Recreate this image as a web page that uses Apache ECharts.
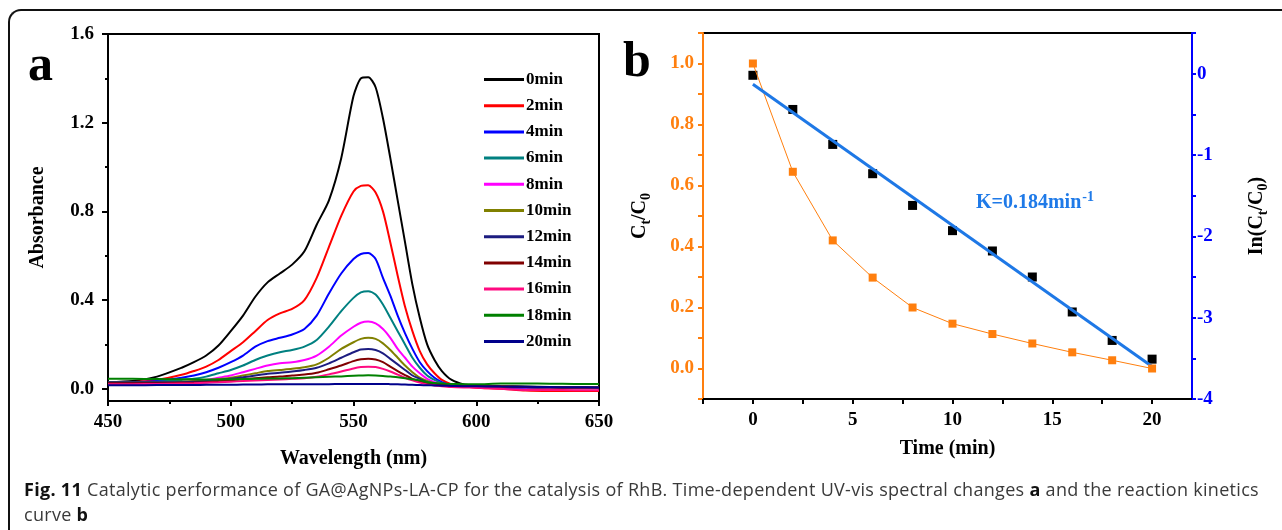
<!DOCTYPE html>
<html>
<head>
<meta charset="utf-8">
<script src="https://cdn.jsdelivr.net/npm/echarts@6/dist/echarts.min.js"></script>
<style>
  html, body { margin: 0; padding: 0; background: #fff; }
  #wrap { position: relative; width: 1282px; height: 530px; overflow: hidden; }
  #frame {
    position: absolute; left: 8px; top: 9px; width: 1300px; height: 560px;
    border-top: 2px solid #111; border-left: 2px solid #111;
    border-top-left-radius: 13px;
  }
  #chart { position: absolute; left: 0; top: 0; width: 1282px; height: 530px; }
  #caption {
    position: absolute; left: 24px; top: 477px; width: 1245px;
    font-family: "Open Sans", "Noto Sans", sans-serif; font-size: 18px;
    letter-spacing: 0.3px; line-height: 25px; color: #3a3a3a;
  }
  #caption b { color: #111; }
</style>
</head>
<body>
<div id="wrap">
  <div id="frame"></div>
  <div id="chart"></div>
  <div id="caption"><b>Fig. 11</b> Catalytic performance of GA@AgNPs-LA-CP for the catalysis of RhB. Time-dependent UV-vis spectral changes <b>a</b> and the reaction kinetics curve <b>b</b></div>
</div>
<script>
// panel a : UV-vis spectra
const wavelength = [450,460,470,480,485,490,495,500,505,510,515,520,525,530,535,540,545,550,553,556,559,562,565,568,571,574,577,580,583,586,590,595,600,610,620,630,640,650];

const abs0  = [0.030,0.035,0.055,0.095,0.120,0.150,0.195,0.260,0.330,0.415,0.480,0.520,0.560,0.620,0.740,0.850,1.040,1.320,1.400,1.405,1.360,1.220,1.040,0.850,0.660,0.470,0.320,0.200,0.130,0.080,0.040,0.020,0.015,0.012,0.010,0.008,0.006,0.005];
const abs2  = [0.025,0.030,0.040,0.063,0.080,0.100,0.130,0.170,0.210,0.260,0.310,0.340,0.360,0.400,0.500,0.640,0.780,0.890,0.915,0.918,0.885,0.800,0.660,0.510,0.370,0.260,0.170,0.110,0.070,0.040,0.020,0.010,0.005,0.000,-0.008,-0.010,-0.010,-0.010];
const abs4  = [0.025,0.030,0.035,0.050,0.060,0.075,0.095,0.120,0.150,0.190,0.215,0.230,0.245,0.270,0.330,0.430,0.520,0.585,0.608,0.612,0.585,0.500,0.420,0.330,0.250,0.180,0.120,0.080,0.050,0.030,0.015,0.010,0.008,0.005,0.003,0.003,0.002,0.002];
const abs6  = [0.030,0.030,0.032,0.040,0.045,0.055,0.070,0.085,0.105,0.130,0.150,0.165,0.175,0.190,0.220,0.280,0.350,0.410,0.435,0.440,0.425,0.380,0.320,0.260,0.200,0.140,0.095,0.060,0.040,0.025,0.015,0.010,0.010,0.008,0.006,0.005,0.004,0.004];
const abs8  = [0.025,0.026,0.028,0.030,0.035,0.040,0.050,0.060,0.075,0.090,0.105,0.115,0.120,0.130,0.150,0.190,0.240,0.280,0.298,0.303,0.295,0.270,0.230,0.180,0.140,0.100,0.070,0.045,0.030,0.020,0.015,0.010,0.010,0.008,0.006,0.005,0.004,0.004];
const abs10 = [0.030,0.030,0.030,0.032,0.035,0.038,0.044,0.050,0.060,0.070,0.080,0.085,0.090,0.097,0.110,0.140,0.180,0.210,0.225,0.230,0.225,0.205,0.175,0.140,0.105,0.075,0.050,0.035,0.025,0.020,0.015,0.012,0.012,0.010,0.008,0.007,0.006,0.006];
const abs12 = [0.030,0.030,0.030,0.030,0.032,0.035,0.040,0.045,0.052,0.060,0.068,0.072,0.078,0.085,0.095,0.115,0.140,0.165,0.177,0.180,0.175,0.160,0.135,0.110,0.085,0.060,0.045,0.030,0.024,0.020,0.015,0.012,0.012,0.010,0.008,0.007,0.006,0.006];
const abs14 = [0.025,0.025,0.025,0.027,0.028,0.030,0.034,0.038,0.043,0.048,0.052,0.055,0.060,0.064,0.072,0.088,0.105,0.125,0.133,0.136,0.132,0.120,0.100,0.080,0.062,0.045,0.033,0.025,0.020,0.018,0.014,0.012,0.012,0.010,0.008,0.007,0.006,0.006];
const abs16 = [0.020,0.021,0.022,0.024,0.025,0.027,0.029,0.032,0.035,0.038,0.040,0.042,0.045,0.048,0.054,0.065,0.078,0.092,0.098,0.100,0.098,0.090,0.078,0.064,0.050,0.038,0.028,0.020,0.015,0.012,0.008,0.006,0.005,0.000,-0.005,-0.005,-0.006,-0.006];
const abs18 = [0.045,0.045,0.044,0.043,0.043,0.042,0.042,0.043,0.044,0.045,0.046,0.047,0.048,0.050,0.052,0.054,0.056,0.059,0.060,0.061,0.060,0.058,0.055,0.052,0.048,0.043,0.038,0.030,0.026,0.024,0.022,0.021,0.020,0.024,0.024,0.023,0.022,0.022];
const abs20 = [0.016,0.016,0.017,0.017,0.017,0.018,0.018,0.018,0.019,0.019,0.020,0.020,0.020,0.021,0.021,0.021,0.022,0.022,0.022,0.022,0.022,0.022,0.021,0.020,0.019,0.018,0.017,0.016,0.015,0.014,0.013,0.012,0.012,0.010,0.009,0.008,0.007,0.006];

const spectraNames  = ['0min','2min','4min','6min','8min','10min','12min','14min','16min','18min','20min'];
const spectraValues = [abs0, abs2, abs4, abs6, abs8, abs10, abs12, abs14, abs16, abs18, abs20];
const spectraColors = ['#000000','#ff0000','#0000ff','#008080','#ff00ff','#808000','#1c1c80','#800000','#ff0a80','#008000','#00008b'];

// panel b : kinetics
const time     = [0, 2, 4, 6, 8, 10, 12, 14, 16, 18, 20];
const ratio    = [1.0, 0.645, 0.42, 0.298, 0.20, 0.147, 0.113, 0.082, 0.053, 0.027, 0.0];
const lnRatio  = [-0.02, -0.44, -0.87, -1.23, -1.62, -1.93, -2.18, -2.50, -2.93, -3.28, -3.51];
const fitTime  = [0, 20];
const fitLn    = [-0.13, -3.60];

// tick positions
const absLabels   = [0, 0.4, 0.8, 1.2, 1.6];
const absMinor    = [0.2, 0.6, 1.0, 1.4];
const timeLabels  = [0, 5, 10, 15, 20];
const timeTicks   = [-2.5, 0, 2.5, 5, 7.5, 10, 12.5, 15, 17.5, 20];
const ratioLabels = [0, 0.2, 0.4, 0.6, 0.8, 1.0];
const ratioTicks  = [-0.1, 0, 0.1, 0.2, 0.3, 0.4, 0.5, 0.6, 0.7, 0.8, 0.9, 1.0, 1.1];
const lnLabels    = [-4, -3, -2, -1, 0];
const lnTicks     = [-4, -3.5, -3, -2.5, -2, -1.5, -1, -0.5, 0, 0.5];

const SERIF = '"Liberation Serif", "Times New Roman", serif';
const ORANGE = '#ff7f0e';
const BLUE = '#0000ff';

const chart = echarts.init(document.getElementById('chart'));

const tickFont = { fontFamily: SERIF, fontWeight: 'bold', fontSize: 19, color: '#000' };
const nameFont = { fontFamily: SERIF, fontWeight: 'bold', fontSize: 20, color: '#000' };
const subRich = (color) => ({
  m: { fontFamily: SERIF, fontWeight: 'bold', fontSize: 20, color: color },
  s: { fontFamily: SERIF, fontWeight: 'bold', fontSize: 14, color: color, padding: [12, 0, 0, 0] }
});

const spectraSeries = spectraNames.map((name, i) => ({
  name: name,
  type: 'line',
  xAxisIndex: 0,
  yAxisIndex: 0,
  symbol: 'none',
  smooth: 0.25,
  lineStyle: { width: 2, color: spectraColors[i] },
  itemStyle: { color: spectraColors[i] },
  data: wavelength.map((w, k) => [w, spectraValues[i][k]])
}));

const option = {
  animation: false,
  grid: [
    { left: 108, top: 34, width: 491, height: 367, show: true, borderColor: '#000', borderWidth: 2 },
    { left: 703, top: 33, width: 489, height: 366, show: true, borderColor: '#000', borderWidth: 2 }
  ],
  legend: {
    data: spectraNames,
    orient: 'vertical',
    left: 479,
    top: 66,
    icon: 'rect',
    itemWidth: 40,
    itemHeight: 3,
    itemGap: 9.2,
    textStyle: { fontFamily: SERIF, fontWeight: 'bold', fontSize: 17, color: '#000', lineHeight: 14, padding: [0, 0, 0, -3] }
  },
  xAxis: [
    {
      gridIndex: 0, type: 'value', min: 450, max: 650, interval: 50,
      name: 'Wavelength (nm)', nameLocation: 'middle', nameGap: 48, nameTextStyle: nameFont,
      axisLine: { onZero: false, lineStyle: { color: '#000', width: 2 } },
      axisTick: { length: 5, lineStyle: { width: 2 } },
      minorTick: { show: true, splitNumber: 2, length: 3, lineStyle: { color: '#000', width: 2 } },
      axisLabel: Object.assign({ margin: 12 }, tickFont),
      splitLine: { show: false }
    },
    {
      gridIndex: 1, type: 'value', min: -2.5, max: 22,
      name: 'Time (min)', nameLocation: 'middle', nameGap: 40, nameTextStyle: nameFont,
      axisLine: { onZero: false, lineStyle: { color: '#000', width: 2 } },
      axisTick: { length: 5, customValues: timeTicks, lineStyle: { width: 2 } },
      axisLabel: Object.assign({ margin: 12, customValues: timeLabels }, tickFont),
      splitLine: { show: false }
    }
  ],
  yAxis: [
    {
      gridIndex: 0, type: 'value', min: -0.055, max: 1.6, position: 'left',
      name: 'Absorbance', nameLocation: 'middle', nameGap: 60, nameTextStyle: nameFont,
      axisLine: { onZero: false, lineStyle: { color: '#000', width: 2 } },
      axisTick: { length: 6, customValues: absLabels, lineStyle: { width: 2 } },
      axisLabel: Object.assign({ margin: 14, customValues: absLabels, formatter: v => v.toFixed(1) }, tickFont),
      splitLine: { show: false }
    },
    {
      // minor ticks of the absorbance axis
      gridIndex: 0, type: 'value', min: -0.055, max: 1.6, position: 'left',
      axisLine: { show: false, onZero: false },
      axisTick: { length: 3, customValues: absMinor, lineStyle: { color: '#000', width: 2 } },
      axisLabel: { show: false },
      splitLine: { show: false }
    },
    {
      gridIndex: 1, type: 'value', min: -0.1, max: 1.1, position: 'left',
      name: '{m|C}{s|t}{m|/C}{s|0}', nameLocation: 'middle', nameGap: 50,
      nameTextStyle: { rich: subRich('#000') },
      axisLine: { onZero: false, lineStyle: { color: ORANGE, width: 2 } },
      axisTick: { length: 5, customValues: ratioTicks, lineStyle: { color: ORANGE, width: 2 } },
      axisLabel: Object.assign({}, tickFont, { margin: 9, color: ORANGE, customValues: ratioLabels, formatter: v => v.toFixed(1) }),
      splitLine: { show: false }
    },
    {
      gridIndex: 1, type: 'value', min: -4, max: 0.5, position: 'right',
      name: '{m|In(C}{s|t}{m|/C}{s|0}{m|)}', nameLocation: 'middle', nameGap: 52,
      nameTextStyle: { rich: subRich('#000') },
      axisLine: { onZero: false, lineStyle: { color: BLUE, width: 2 } },
      axisTick: { length: 4, customValues: lnTicks, lineStyle: { color: BLUE, width: 2 } },
      axisLabel: Object.assign({}, tickFont, { margin: 5, color: BLUE, customValues: lnLabels }),
      splitLine: { show: false }
    }
  ],
  graphic: [
    { type: 'text', left: 28, top: 42, style: { text: 'a', font: 'bold 50px ' + SERIF, fill: '#000' } },
    { type: 'text', left: 623, top: 38, style: { text: 'b', font: 'bold 50px ' + SERIF, fill: '#000' } },
    {
      type: 'text', left: 976, top: 190,
      style: {
        text: '{m|K=0.184min}{s|-1}',
        rich: {
          m: { fontFamily: SERIF, fontWeight: 'bold', fontSize: 20, fill: '#1f7ae8' },
          s: { fontFamily: SERIF, fontWeight: 'bold', fontSize: 14, fill: '#1f7ae8', padding: [0, 0, 12, 1] }
        }
      }
    }
  ],
  series: spectraSeries.concat([
    {
      name: 'Ct/C0', type: 'line', xAxisIndex: 1, yAxisIndex: 2,
      symbol: 'rect', symbolSize: 8,
      lineStyle: { width: 1, color: ORANGE }, itemStyle: { color: ORANGE },
      data: time.map((t, i) => [t, ratio[i]])
    },
    {
      name: 'ln', type: 'scatter', xAxisIndex: 1, yAxisIndex: 3,
      symbol: 'rect', symbolSize: 9, itemStyle: { color: '#000', opacity: 1 },
      data: time.map((t, i) => [t, lnRatio[i]])
    },
    {
      name: 'fit', type: 'line', xAxisIndex: 1, yAxisIndex: 3,
      symbol: 'none', lineStyle: { width: 3, color: '#1e78e6' },
      data: fitTime.map((t, i) => [t, fitLn[i]])
    }
  ])
};

chart.setOption(option);
</script>
</body>
</html>
